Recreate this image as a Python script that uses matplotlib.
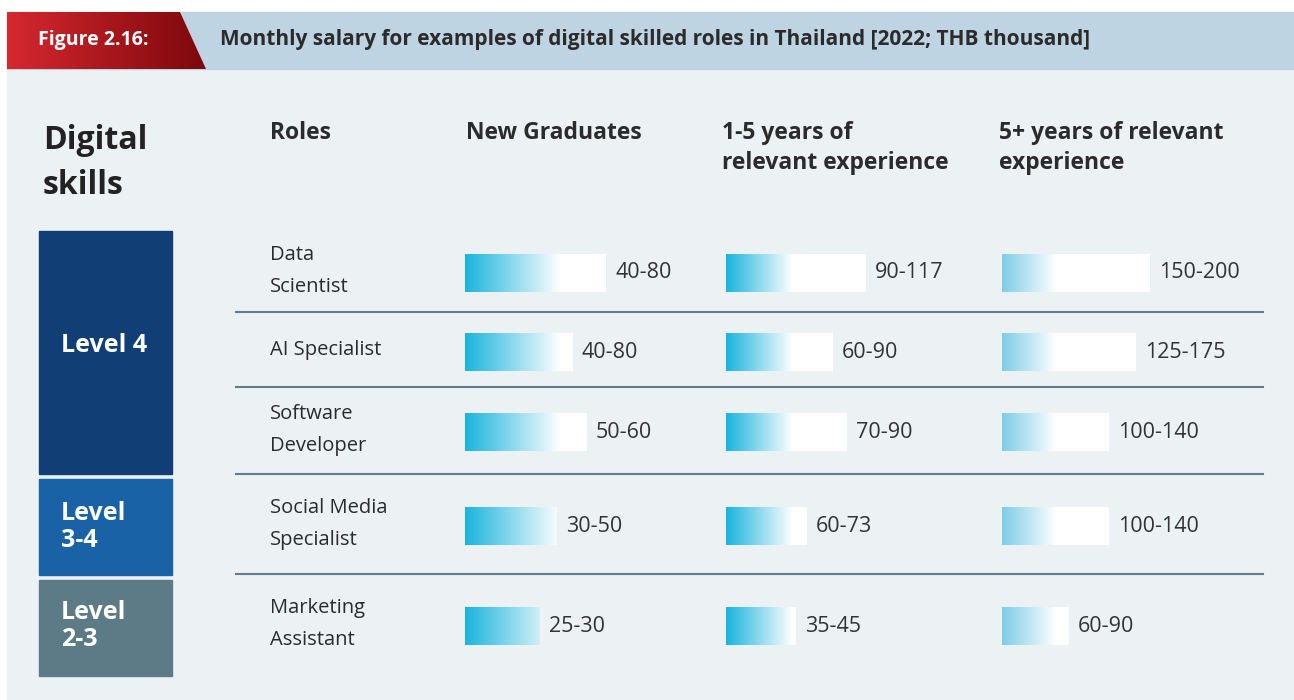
import numpy as np
import matplotlib
matplotlib.use("Agg")
import matplotlib.pyplot as plt
from matplotlib.patches import Rectangle, Polygon
from matplotlib.colors import to_rgb

plt.rcParams['font.family'] = ['Open Sans', 'DejaVu Sans']

# data
roles = ["Data\nScientist", "AI Specialist", "Software\nDeveloper",
         "Social Media\nSpecialist", "Marketing\nAssistant"]
columns = ["New Graduates", "1-5 years of\nrelevant experience",
           "5+ years of relevant\nexperience"]
range_new = ["40-80", "40-80", "50-60", "30-50", "25-30"]
range_mid = ["90-117", "60-90", "70-90", "60-73", "35-45"]
range_senior = ["150-200", "125-175", "100-140", "100-140", "60-90"]
# bar length as drawn in the original (visual magnitude)
bar_new = [141, 108, 122, 92, 75]
bar_mid = [140, 107, 121, 81, 70]
bar_senior = [148, 134, 107, 107, 67]
levels = ["Level 4", "Level\n3-4", "Level\n2-3"]

title = "Monthly salary for examples of digital skilled roles in Thailand [2022; THB thousand]"
fig_label = "Figure 2.16:"

# layout (pixel space)
W, H = 1294, 700
row_y = [273, 352, 432, 526, 626]
row_lines = [312, 387, 474, 574]
col_x = [465, 726, 1002]
head_x = [466, 722, 999]
grad_len = [95, 66, 54]
grad_start = ['#1bb4dd', '#1bb4dd', '#7fcde8']
level_boxes = [(231, 474), (479, 575), (580, 676)]
level_text_y = [345, 527, 626]
level_colors = ['#113f75', '#1a62a6', '#5d7a87']
bar_h = 38

fig = plt.figure(figsize=(W / 100, H / 100), dpi=100)
ax = fig.add_axes([0, 0, 1, 1])
ax.set_axis_off()

# background panel + header
ax.add_patch(Rectangle((7, 69), W - 7, H - 69, color='#ecf1f4', zorder=0))
ax.add_patch(Rectangle((7, 12), W - 7, 57, color='#bfd4e2', zorder=0))
red = Polygon([(7, 12), (180, 12), (206, 69), (7, 69)], closed=True,
              facecolor='none', edgecolor='none')
ax.add_patch(red)
c0, c1 = np.array(to_rgb('#d6282f')), np.array(to_rgb('#7c080c'))
t = np.linspace(0, 1, 256)[None, :, None]
im = ax.imshow(c0 + (c1 - c0) * t, extent=[7, 206, 69, 12], aspect='auto', zorder=1)
im.set_clip_path(red)
ax.text(38, 40, fig_label, color='white', fontsize=14, fontweight='bold',
        va='center', ha='left', zorder=3)
ax.text(220, 40, title, color='#2b2b2b', fontsize=15, fontweight='bold',
        va='center', ha='left', zorder=3)

# headers
ax.text(43, 163, "Digital\nskills", fontsize=23, fontweight='bold', color='#222222',
        va='center', ha='left', linespacing=1.45)
ax.text(270, 121, "Roles", fontsize=16.5, fontweight='bold', color='#2b2b2b',
        va='top', ha='left')
for x, c in zip(head_x, columns):
    ax.text(x, 121, c, fontsize=16.5, fontweight='bold', color='#2b2b2b',
            va='top', ha='left', linespacing=1.35)

# level boxes
for (y0, y1), ty, lab, col in zip(level_boxes, level_text_y, levels, level_colors):
    ax.add_patch(Rectangle((39, y0), 133, y1 - y0, color=col, zorder=2))
    ax.text(61, ty, lab, color='white', fontsize=18, fontweight='bold',
            va='center', ha='left', linespacing=1.15, zorder=3)

# separator lines
for y in row_lines:
    ax.plot([236, 1263], [y, y], color='#5f7d8c', lw=1.5, zorder=2)

# role names
for y, r in zip(row_y, roles):
    ax.text(270, y - 2, r, fontsize=14.5, color='#2b2b2b', va='center', ha='left',
            linespacing=1.8)


def grad_bar(x0, yc, length, glen, start):
    s = np.array(to_rgb(start))
    px = np.arange(int(round(length)))
    f = np.clip(px / glen, 0, 1)[None, :, None]
    img = s + (1 - s) * f
    ax.imshow(img, extent=[x0, x0 + length, yc + bar_h / 2, yc - bar_h / 2],
              aspect='auto', interpolation='bilinear', zorder=3)


for ci, (bars, labels) in enumerate([(bar_new, range_new), (bar_mid, range_mid),
                                     (bar_senior, range_senior)]):
    for y, b, lab in zip(row_y, bars, labels):
        grad_bar(col_x[ci], y, b, grad_len[ci], grad_start[ci])
        ax.text(col_x[ci] + b + 9, y, lab, fontsize=15.5, color='#333333',
                va='center', ha='left', zorder=4)

ax.set_xlim(0, W)
ax.set_ylim(H, 0)
fig.savefig("out.png", dpi=100, facecolor='white')
